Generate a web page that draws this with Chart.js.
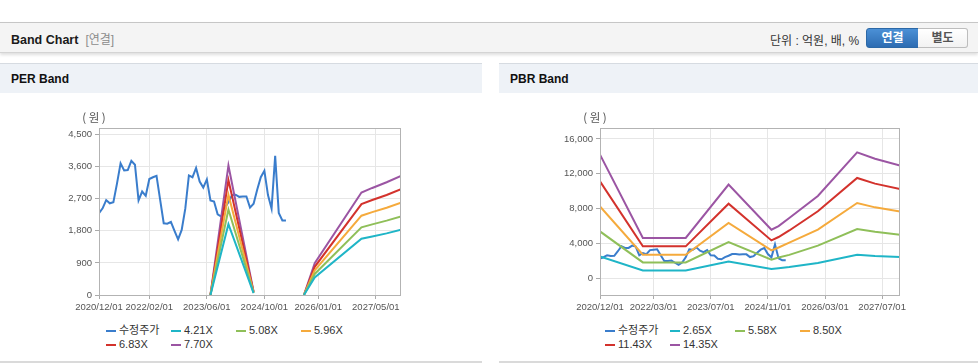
<!DOCTYPE html>
<html lang="ko">
<head>
<meta charset="utf-8">
<title>Band Chart</title>
<script src="https://cdn.jsdelivr.net/npm/chart.js@4.4.1/dist/chart.umd.min.js"></script>
<style>
  body { margin: 0; width: 978px; height: 364px; position: relative; overflow: hidden; background: #fff;
         font-family: "Liberation Sans", Arial, "Noto Sans CJK KR", sans-serif; color: #222; }
  .top { position: absolute; left: 0; top: 22px; width: 978px; height: 29px; background: #f4f4f4;
         border-top: 1px solid #c6c6c6; border-bottom: 1px solid #d4d4d4; box-shadow: 0 2px 3px rgba(0,0,0,0.13); }
  .ttl { position: absolute; left: 11px; top: 30px; font-size: 12.5px; font-weight: bold; color: #1a1a1a; }
  .ttl span { font-weight: normal; font-size: 12px; color: #8c8c8c; margin-left: 7px; }
  .unit { position: absolute; left: 770px; top: 31px; font-size: 12px; color: #333; }
  .btn { position: absolute; top: 28px; height: 18px; line-height: 18px; font-size: 12px; font-weight: bold; text-align: center; }
  .b1 { left: 866px; width: 51px; color: #fff; background: linear-gradient(#4b90d6, #2d6cb2);
        border: 1px solid #2c68a6; border-radius: 3px 0 0 3px; }
  .b2 { left: 918px; width: 49px; color: #555; background: linear-gradient(#fff, #f2f2f2);
        border: 1px solid #bdbdbd; border-left: none; border-radius: 0 3px 3px 0; }
  .panel { position: absolute; top: 63px; height: 298px; border-bottom: 2px solid #dadada; }
  .phead { height: 29px; background: #eef2f7; border-top: 1px solid #d6dbe1; font-size: 12px; font-weight: bold;
           line-height: 30px; padding-left: 11px; color: #111; }
  canvas { position: absolute; }
  .legend { position: absolute; top: 323px; width: 270px; font-size: 11px; color: #333; }
  .legend div { display: inline-block; width: 65px; height: 14px; line-height: 14px; white-space: nowrap; }
  .legend i { display: inline-block; width: 10px; height: 2px; vertical-align: middle; margin-right: 3px; }
</style>
</head>
<body>
<div class="top"></div>
<div class="ttl">Band Chart<span>[연결]</span></div>
<div class="unit">단위 : 억원, 배, %</div>
<div class="btn b1">연결</div>
<div class="btn b2">별도</div>

<div class="panel" style="left:0;width:482px"><div class="phead">PER Band</div></div>
<div class="panel" style="left:499px;width:479px"><div class="phead">PBR Band</div></div>

<canvas id="perChart" width="482" height="220" style="left:0;top:100px"></canvas>
<canvas id="pbrChart" width="479" height="220" style="left:499px;top:100px"></canvas>
<div class="legend" id="perLegend" style="left:106px"></div>
<div class="legend" id="pbrLegend" style="left:605px"></div>

<script>
// x 값은 2020/12 부터의 개월 수
var perTickMonths = [0, 14, 30, 46, 61, 77];
var perTickLabels = ["2020/12/01", "2022/02/01", "2023/06/01", "2024/10/01", "2026/01/01", "2027/05/01"];
var pbrTickMonths = [0, 15, 31, 47, 63, 79];
var pbrTickLabels = ["2020/12/01", "2022/03/01", "2023/07/01", "2024/11/01", "2026/03/01", "2027/07/01"];
var perYTicks = [0, 900, 1800, 2700, 3600, 4500];
var pbrYTicks = [0, 4000, 8000, 12000, 16000];

// 수정주가 (월별, 2020/12 ~ 2025/04)
var price = [2290, 2430, 2660, 2570, 2600, 3120, 3690, 3490, 3500, 3760,
  3650, 2650, 2900, 2780, 3250, 3300, 3340, 2670, 2010, 2000,
  2050, 1800, 1560, 1825, 2420, 3350, 3300, 3560, 3180, 3010,
  3240, 2650, 2620, 2260, 2200, 2450, 2600, 2800, 2810, 2750,
  2760, 2760, 2450, 2560, 2950, 3300, 3480, 2800, 2420, 3900,
  2300, 2090, 2090];

// PER 밴드
var perBandMonths = [31, 36, 43, 50, 57, 60, 73, 76, 80, 84];
var per421 = [0, 1985, 51, null, 0, 490, 1575, 1640, 1727, 1826];
var per508 = [0, 2395, 61, null, 0, 590, 1895, 1980, 2085, 2204];
var per596 = [0, 2810, 72, null, 0, 690, 2223, 2322, 2446, 2585];
var per683 = [0, 3220, 82, null, 0, 790, 2548, 2661, 2803, 2963];
var per770 = [0, 3630, 93, null, 0, 890, 2872, 3000, 3160, 3340];

// PBR 밴드
var pbrBandMonths = [0, 12, 24, 36, 48, 50, 53, 61, 72, 77, 84];
var pbr265 = [2530, 920, 920, 1950, 1080, 1170, 1300, 1780, 2720, 2580, 2460];
var pbr558 = [5390, 1840, 1840, 4180, 2150, 2400, 2700, 3760, 5670, 5350, 5020];
var pbr850 = [8260, 2720, 2720, 6360, 3210, 3550, 4100, 5600, 8650, 8150, 7660];
var pbr1143 = [11130, 3680, 3680, 8570, 4360, 4750, 5500, 7700, 11520, 10870, 10260];
var pbr1435 = [14200, 4640, 4640, 10760, 5590, 6000, 6930, 9450, 14460, 13720, 12940];

var colors = ["#3a7dcc", "#1fb5c7", "#8fbf59", "#f5aa3c", "#d3322c", "#9b55a3"];
var tickFont = "'Liberation Sans', Arial, sans-serif";

function pts(xs, ys) {
  return ys.map(function (v, i) { return { x: xs[i], y: v }; });
}
function priceMonths() {
  return price.map(function (v, i) { return i; });
}

// 플롯 테두리와 (원) 표시
var framePlugin = {
  id: "frame",
  afterDatasetsDraw: function (chart) {
    var a = chart.chartArea;
    var ctx = chart.ctx;
    ctx.save();
    ctx.strokeStyle = "#b3b3b3";
    ctx.lineWidth = 1;
    ctx.strokeRect(Math.round(a.left) + 0.5, Math.round(a.top) + 0.5, Math.round(a.right - a.left) - 1, Math.round(a.bottom - a.top));
    ctx.fillStyle = "#555";
    ctx.font = "11.5px 'Noto Sans CJK KR', sans-serif";
    ctx.textAlign = "center";
    ctx.textBaseline = "middle";
    ctx.fillText("( 원 )", a.left - 5, a.top - 10);
    ctx.restore();
  }
};

function makeChart(id, labels, bandMonths, bands, yMin, yMax, yTicks, xTicks, xLabels, yWidth, padRight) {
  var datasets = [{
    label: labels[0],
    data: pts(priceMonths(), price),
    borderColor: colors[0],
    order: 1
  }];
  for (var i = 0; i < bands.length; i++) {
    datasets.push({
      label: labels[i + 1],
      data: pts(bandMonths, bands[i]),
      borderColor: colors[i + 1],
      order: 0
    });
  }
  return new Chart(document.getElementById(id), {
    type: "line",
    data: { datasets: datasets },
    options: {
      responsive: false,
      animation: false,
      devicePixelRatio: 1,
      layout: { padding: { top: 28, right: padRight, bottom: 0, left: 0 } },
      elements: { point: { radius: 0 }, line: { borderWidth: 2, tension: 0 } },
      plugins: { legend: { display: false }, tooltip: { enabled: false } },
      scales: {
        x: {
          type: "linear",
          min: 0,
          max: 84,
          afterBuildTicks: function (s) { s.ticks = xTicks.map(function (v) { return { value: v }; }); },
          afterFit: function (s) { s.height = 25; },
          ticks: {
            autoSkip: false,
            maxRotation: 0,
            padding: 3,
            color: "#555",
            font: { size: 9.5, family: tickFont },
            callback: function (v, idx) { return xLabels[idx]; }
          },
          grid: { color: "#e6e6e6", tickLength: 4, tickColor: "#aaa" },
          border: { display: false }
        },
        y: {
          min: yMin,
          max: yMax,
          afterBuildTicks: function (s) { s.ticks = yTicks.map(function (v) { return { value: v }; }); },
          afterFit: function (s) { s.width = yWidth; },
          ticks: {
            padding: 3,
            color: "#555",
            font: { size: 9.5, family: tickFont },
            callback: function (v) { return v.toLocaleString("en-US"); }
          },
          grid: { color: "#e6e6e6", tickLength: 4, tickColor: "#aaa" },
          border: { display: false }
        }
      }
    },
    plugins: [framePlugin]
  });
}

function makeLegend(id, labels) {
  var box = document.getElementById(id);
  for (var i = 0; i < labels.length; i++) {
    var d = document.createElement("div");
    var sw = document.createElement("i");
    sw.style.background = colors[i];
    d.appendChild(sw);
    d.appendChild(document.createTextNode(labels[i]));
    box.appendChild(d);
  }
}

var perLabels = ["수정주가", "4.21X", "5.08X", "5.96X", "6.83X", "7.70X"];
var pbrLabels = ["수정주가", "2.65X", "5.58X", "8.50X", "11.43X", "14.35X"];

var perChart = makeChart("perChart", perLabels, perBandMonths, [per421, per508, per596, per683, per770],
  0, 4680, perYTicks, perTickMonths, perTickLabels, 99, 81);
var pbrChart = makeChart("pbrChart", pbrLabels, pbrBandMonths, [pbr265, pbr558, pbr850, pbr1143, pbr1435],
  -1900, 17250, pbrYTicks, pbrTickMonths, pbrTickLabels, 101, 78);

makeLegend("perLegend", perLabels);
makeLegend("pbrLegend", pbrLabels);
</script>
</body>
</html>
